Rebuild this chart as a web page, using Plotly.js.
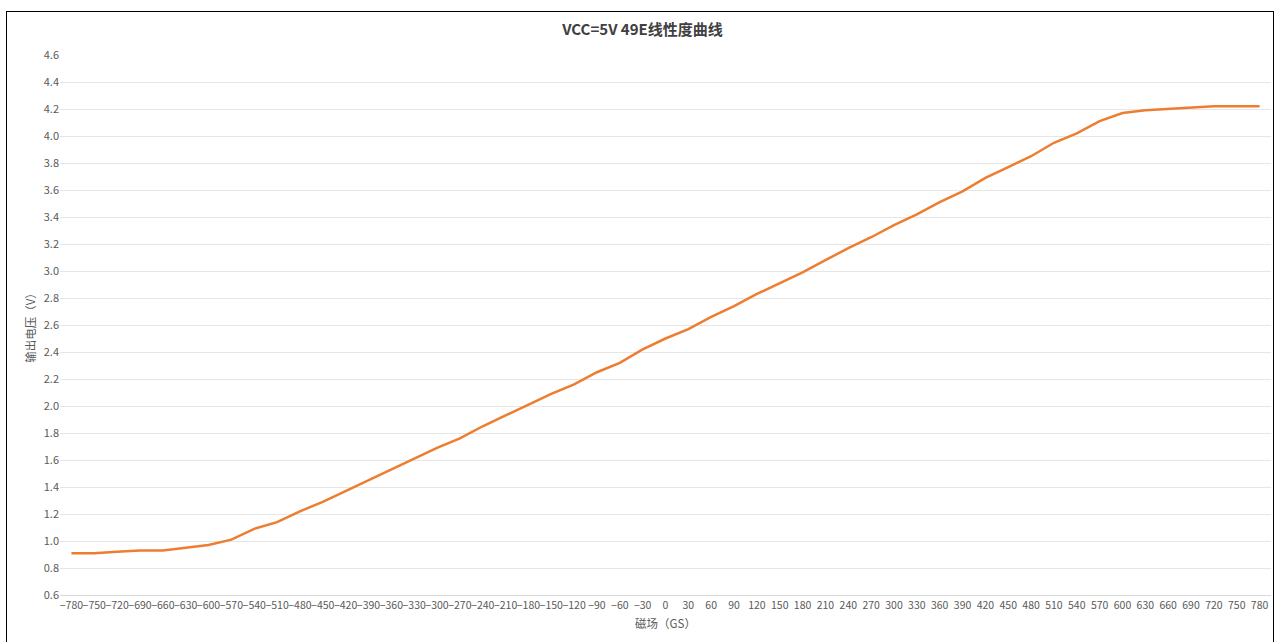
<!DOCTYPE html>
<html>
<head>
<meta charset="utf-8">
<script src="https://cdn.plot.ly/plotly-3.0.1.min.js"></script>
<style>
  html, body { margin: 0; padding: 0; background: #fff; overflow: hidden; }
  #frame { position: absolute; left: 6px; top: 11px; width: 1268px; height: 640px; border: 1.5px solid #000; box-sizing: border-box; pointer-events: none; z-index: 10; }
  #chart { position: absolute; left: 0; top: 0; width: 1285px; height: 642px; }
</style>
</head>
<body>
<div id="chart"></div>
<div id="frame"></div>
<script>
const chartTitle = "VCC=5V 49E线性度曲线";
const xTitle = "磁场（GS）";
const yTitle = "输出电压（V）";

const fieldGs = [-780,-750,-720,-690,-660,-630,-600,-570,-540,-510,-480,-450,-420,-390,-360,-330,-300,-270,-240,-210,-180,-150,-120,-90,-60,-30,0,30,60,90,120,150,180,210,240,270,300,330,360,390,420,450,480,510,540,570,600,630,660,690,720,750,780];
const outputV = [0.91,0.91,0.92,0.93,0.93,0.95,0.97,1.01,1.09,1.14,1.22,1.29,1.37,1.45,1.53,1.61,1.69,1.76,1.85,1.93,2.01,2.09,2.16,2.25,2.32,2.42,2.50,2.57,2.66,2.74,2.83,2.91,2.99,3.08,3.17,3.25,3.34,3.42,3.51,3.59,3.69,3.77,3.85,3.95,4.02,4.11,4.17,4.19,4.20,4.21,4.22,4.22,4.22];
const yTicks = [0.6,0.8,1.0,1.2,1.4,1.6,1.8,2.0,2.2,2.4,2.6,2.8,3.0,3.2,3.4,3.6,3.8,4.0,4.2,4.4,4.6];

const xLabels = fieldGs.map(v => v < 0 ? "\u2212" + Math.abs(v) : String(v));
const font = "Noto Sans CJK SC, sans-serif";

Plotly.newPlot("chart", [{
  x: xLabels,
  y: outputV,
  type: "scatter",
  mode: "lines",
  line: { color: "#ED7D31", width: 2.5 },
  hoverinfo: "x+y"
}], {
  width: 1285,
  height: 642,
  margin: { l: 60, r: 14, t: 55, b: 47 },
  paper_bgcolor: "#ffffff",
  plot_bgcolor: "#ffffff",
  showlegend: false,
  font: { family: font, color: "#595959", size: 11 },
  title: { text: chartTitle, x: 0.5, xanchor: "center", y: 0.953, yanchor: "middle", font: { family: font, size: 15, color: "#404040", weight: "bold" } },
  xaxis: {
    type: "category",
    range: [-0.5, fieldGs.length - 0.5],
    showgrid: false,
    showline: true,
    linecolor: "#d9d9d9",
    linewidth: 1,
    ticks: "",
    tickangle: 0,
    tickfont: { family: font, size: 10.5, color: "#595959" },
    title: { text: xTitle, standoff: 9, font: { family: font, size: 11.5, color: "#595959" } },
    fixedrange: true
  },
  yaxis: {
    range: [0.6, 4.6],
    tickvals: yTicks,
    ticktext: yTicks.map(v => v.toFixed(1)),
    showgrid: true,
    gridcolor: "#e6e6e6",
    gridwidth: 1,
    zeroline: false,
    showline: false,
    ticks: "",
    ticklen: 0,
    tickfont: { family: font, size: 11, color: "#595959" },
    title: { text: yTitle, standoff: 5, font: { family: font, size: 11.5, color: "#595959" } },
    fixedrange: true
  }
}, { displayModeBar: false, staticPlot: true });
</script>
</body>
</html>
